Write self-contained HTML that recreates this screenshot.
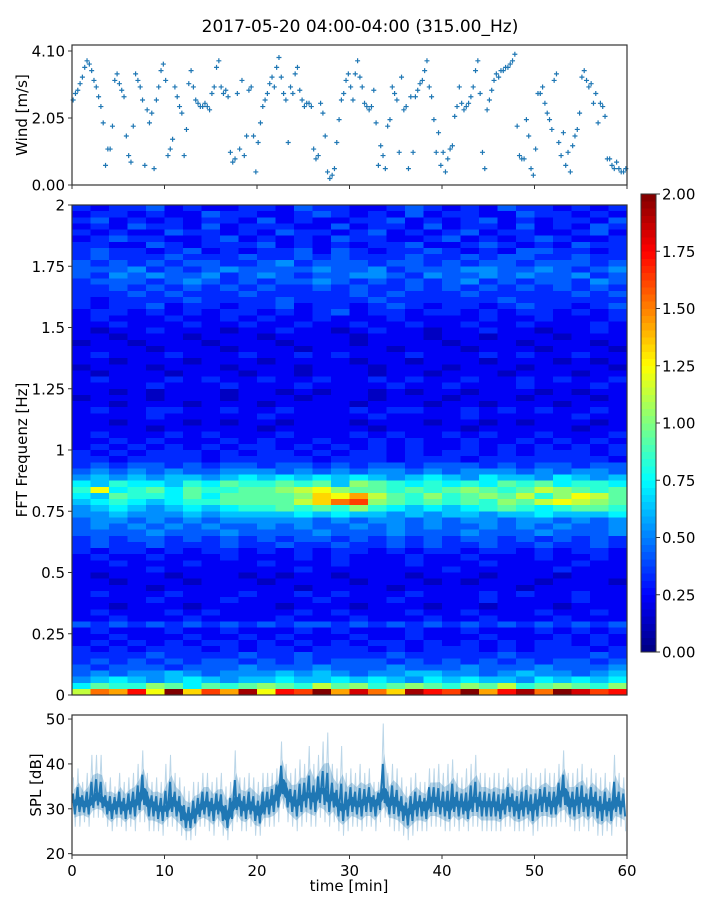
<!DOCTYPE html>
<html><head><meta charset="utf-8">
<style>
html,body{margin:0;padding:0;background:#fff;}
svg{display:block;font-family:"DejaVu Sans","Liberation Sans",sans-serif;}
</style></head>
<body>
<svg id="fig" width="720" height="900" viewBox="0 0 720 900" xmlns="http://www.w3.org/2000/svg">
<text x="360" y="32" font-size="17" text-anchor="middle" fill="#000">2017-05-20 04:00-04:00 (315.00_Hz)</text>
<g id="wind"></g>
<g id="spec"></g>
<g id="cbar"></g>
<g id="spl"></g>
<text transform="translate(27,115) rotate(-90)" font-size="15" text-anchor="middle">Wind [m/s]</text>
<text transform="translate(27,450) rotate(-90)" font-size="15" text-anchor="middle">FFT Frequenz [Hz]</text>
<text transform="translate(41,785) rotate(-90)" font-size="15" text-anchor="middle">SPL [dB]</text>
<text x="349" y="891" font-size="15" text-anchor="middle">time [min]</text>
</svg>
<script>
// ---------- DATA ----------
const windValues = [
2.6,2.8, 2.9,3.1, 3.3,3.6, 3.8,3.7, 3.5,3.2, 3.0,2.7, 2.4,1.9, 0.6,1.1, 1.1,1.8, 3.2,3.4,
3.1,2.9, 2.7,1.5, 0.9,0.7, 1.8,3.4, 3.2,3.0, 2.6,0.6, 2.3,1.9, 2.2,0.5, 2.6,3.0, 3.5,3.7,
3.2,0.9, 1.1,1.4, 3.0,2.7, 2.4,2.2, 0.9,1.7, 3.1,3.5, 3.0,2.6, 2.5,2.4, 2.4,2.5, 2.4,2.3,
2.8,3.0, 3.6,3.8, 3.0,2.8, 2.9,2.7, 1.0,0.7, 0.8,2.8, 1.1,3.2, 0.9,1.5, 2.9,3.0, 1.5,0.4,
1.3,1.9, 2.4,2.6, 2.8,3.1, 3.3,3.0, 3.6,3.9, 3.3,2.8, 2.6,1.3, 3.0,2.8, 3.4,3.6, 2.9,2.6,
2.4,2.5, 2.5,2.4, 1.1,0.8, 0.9,2.5, 2.2,1.5, 0.4,0.2, 0.3,0.5, 1.3,2.0, 2.6,2.8, 3.2,3.4,
3.0,2.6, 3.4,3.8, 3.3,3.0, 2.5,2.4, 2.3,2.4, 2.9,1.9, 0.6,1.2, 0.9,0.5, 1.8,2.0, 3.0,2.8,
2.6,1.0, 3.3,2.3, 2.4,0.5, 2.7,1.0, 2.7,2.9, 3.1,3.2, 3.5,3.8, 3.0,2.7, 2.0,1.0, 1.6,0.6,
1.0,0.4, 0.8,1.1, 1.2,2.1, 2.4,3.0, 2.5,2.3, 2.4,2.5, 2.7,3.0, 3.5,3.8, 2.8,1.0, 0.5,2.3,
2.6,2.9, 3.2,3.4, 3.3,3.5, 3.5,3.6, 3.6,3.7, 3.8,4.0, 1.8,0.9, 0.8,0.8, 2.0,1.5, 0.5,0.3,
1.1,2.8, 2.8,3.0, 2.5,2.2, 2.0,1.7, 3.2,3.4, 1.3,0.9, 1.6,0.6, 1.0,0.4, 1.2,1.5, 1.7,2.2,
3.3,3.5, 3.2,3.0, 3.1,2.5, 2.8,1.9, 2.5,2.4, 2.1,0.8, 0.8,0.6, 0.5,0.7, 0.5,0.4, 0.4,0.5];
const windTicks = [0.00, 2.05, 4.10];
const windTickLabels = ["0.00","2.05","4.10"];

const splMid = [31,32,31,31,32,33, 32,31,30,31,31,30, 31,31,32,34,31,31, 30,30,30,32,31,30, 28,28,29,30,31,31,
30,31,30,28,30,32, 31,30,31,30,29,31, 31,32,33,36,33,32, 31,32,33,33,32,34, 34,32,33,31,30,31,
32,31,31,32,32,31, 32,34,31,32,31,30, 29,30,31,31,30,32, 32,31,31,30,32,31, 31,30,32,32,31,31,
31,31,30,31,32,31, 30,31,31,30,31,32, 32,31,31,33,34,31, 31,32,32,31,32,31, 30,31,30,32,31,31];
const splMax = [37,39,36,38,42,42, 42,36,37,35,38,36, 37,38,40,43,38,36, 37,36,40,42,38,37, 35,34,36,36,38,38,
36,37,38,35,36,43, 37,37,38,37,36,38, 38,38,39,45,40,38, 39,41,40,44,40,42, 45,47,40,39,44,38,
39,38,40,38,39,36, 36,49,38,40,39,37, 35,37,38,36,36,39, 39,40,38,40,41,38, 37,39,40,42,38,38,
37,38,38,37,39,37, 37,38,39,38,37,38, 39,38,38,40,43,38, 38,39,40,37,39,38, 37,38,36,42,38,37];
const splMin = [26,26,27,26,28,28, 28,26,25,26,26,25, 26,25,27,27,25,25, 25,24,26,26,25,24, 23,23,24,26,26,25,
24,26,24,23,25,27, 25,25,26,24,24,26, 26,26,27,30,27,26, 25,26,27,26,26,28, 27,26,27,25,24,25,
26,26,25,26,26,25, 27,28,26,25,25,24, 23,24,25,25,25,26, 26,26,25,25,26,25, 26,25,26,26,25,25,
25,25,25,26,26,25, 25,25,26,24,25,26, 26,26,26,27,27,26, 25,25,26,25,26,24, 24,25,24,26,26,25];
const splTicks = [20,30,40,50];

const timeTicks = [0,10,20,30,40,50,60];
const freqTicks = [0,0.25,0.5,0.75,1,1.25,1.5,1.75,2];
const freqTickLabels = ["0","0.25","0.5","0.75","1","1.25","1.5","1.75","2"];
const cbarTicks = [0,0.25,0.5,0.75,1,1.25,1.5,1.75,2];
const cbarTickLabels = ["0.00","0.25","0.50","0.75","1.00","1.25","1.50","1.75","2.00"];

// spectrogram: rows from 2.0 Hz (top) down to 0 Hz, each code char = value*10 (0-9, A=1.0 ... K=2.0)
const specRows = [
"323342322332433223432324332323","233232243322343232423322433232","342323233242322334232342323324","232433242333224233242332423243",
"323224332324332342323423322342","234332234232324332234232343223","332243233342323233422343232433","343323423233424323343232443323",
"343334333433434333433434433433","434343443345344434434344344434","444534345444454453444554454345","435454453454344554354454544534",
"344434543434454343434534344354","334343434343343433434343434343","333434333433333434333433333434","323333433334333343333334333333",
"323342332334233234323323433234","233232323323234233233232332323","232223223232232223222232232223","223222322322322322322322322232",
"212232221223221232212232212232","221222122212222122212212221222","122122212221222122221222122212","222212221222122221222122212221",
"232223222322323222322232322322","221222122212222122122212221212","122212221222122212221222122221","212221222122122212212221222122",
"232223232232232232322322323223","222232223222322223223222322232","221212221221212212122122212122","122212221222122212221222122212",
"221222122212222122212212221222","232233223223222323322323232232","222232222232222232222322222322","221222121221222122212212122212",
"222212222212222212222122222122","232223232223222323223232232223","223232223232232232322322323232","232323232332323232322323232323",
"323233323233232332323323233323","332333323333323332333233333332","343443434434434344344434344344","454545445554545455454555454554",
"565656656767676765676576657656","768776879889896A98787879897887","8C789798899ABCA998989A989BA989","769887979999ADCEB98A89A9B8ACB9",
"678767889999BDFGA989898A9BCBA9","567656767889898A876767898789987".slice(0,30),"556555656666767665656656676667","455454545555545455454554554545",
"454545454454544545454454545445","444454445444454445444544454445","343443434343443434343443434343","343343334334334334343343343343",
"323323233232323323233233232332","232232223222323222322322232232","223222322232223222322232222322","222232222222322222223222223222",
"212221222121221222122212221222","221222122212222122212122212221","222212222222122221222222122222","232223222322323222322232322322",
"222232223222232223222232222322","221222122221222122212212221222","232223232222323222322322232232","223222322223222322232232223222",
"434343434343443434343434343434","232223223222323222322322232323","223222322323222322322232223232","232323233232323233232323233232",
"323233323233233323233323233323","333343333433433334333334333343","343434344343434443434343434434","434443444544454445444544454445",
"454556545556565455665545655456","567656765667667676576766576767","7988A97989A98B9A89A98A9B89A98A","BFEHCKDGEJCHGKEIFDJHGKEHJFKIGH"
];
const specCodeAlphabet = "0123456789ABCDEFGHIJK";
const specFreqMax = 2.0;
const specTimeMax = 60;

// ---------- HELPERS ----------
const NS = "http://www.w3.org/2000/svg";
function mk(tag, attrs, parent){ const e=document.createElementNS(NS,tag); for(const k in attrs) e.setAttribute(k,attrs[k]); if(parent) parent.appendChild(e); return e; }
function jet(x){ x=Math.max(0,Math.min(1,x)); const c=v=>Math.round(255*Math.max(0,Math.min(1,v)));
  return `rgb(${c(1.5-Math.abs(4*x-3))},${c(1.5-Math.abs(4*x-2))},${c(1.5-Math.abs(4*x-1))})`; }

const X0=72, X1=627;
const xScale = t => X0 + (t/60)*(X1-X0);
const FS = 15;

function frame(g, top, bot, name){
  const r = mk('rect',{x:X0,y:top,width:X1-X0,height:bot-top,fill:'none',stroke:'#333','stroke-width':1.2},g);
  
  
}
function xTicks(g, bot, labels){
  timeTicks.forEach(t=>{
    const x=xScale(t);
    const l=mk('line',{x1:x,x2:x,y1:bot,y2:bot+4,stroke:'#333','stroke-width':1},g);
    
    
    if(labels){
      const tx=mk('text',{x:x,y:bot+21,'font-size':FS,'text-anchor':'middle'},g);
      tx.textContent=t;
      
      
    }
  });
}
function yTick(g, y, label){
  const l=mk('line',{x1:X0-4,x2:X0,y1:y,y2:y,stroke:'#333','stroke-width':1},g);
  
  
  const tx=mk('text',{x:X0-7,y:y+5.5,'font-size':FS,'text-anchor':'end'},g);
  tx.textContent=label;
  
  
}

// ---------- WIND ----------
(function(){
  const g=document.getElementById('wind');
  const top=45, bot=185, vMax=4.1, yMaxPix=51;
  const yScale = v => bot - (v/vMax)*(bot-yMaxPix);
  const n = windValues.length, dt = 60/n;
  windValues.forEach((v,i)=>{
    const x=xScale(i*dt+dt/2), y=yScale(v);
    const p=mk('path',{d:`M${x-2.5},${y}H${x+2.5}M${x},${y-2.5}V${y+2.5}`,stroke:'#1f77b4','stroke-width':1.2,fill:'none'},g);
    
    
  });
  frame(g,top,bot,'wind-axes-frame');
  xTicks(g,bot,false);
  windTicks.forEach((v,i)=>yTick(g,yScale(v),windTickLabels[i]));
})();

// ---------- SPECTROGRAM ----------
(function(){
  const g=document.getElementById('spec');
  const top=205, bot=695;
  const fScale = f => bot - (f/specFreqMax)*(bot-top);
  const nRows=specRows.length;
  const df=specFreqMax/nRows;
  specRows.forEach((row,ri)=>{
    const nCols=30, dtc=specTimeMax/nCols;
    const fHi=specFreqMax-ri*df, fLo=fHi-df;
    for(let j=0;j<nCols;j++){
      const ch=row[j]||'2';
      const val=specCodeAlphabet.indexOf(ch)/10;
      const x=xScale(j*dtc), x2=xScale((j+1)*dtc);
      const r=mk('rect',{x:x,y:fScale(fHi),width:x2-x+0.3,height:fScale(fLo)-fScale(fHi)+0.3,fill:jet((val+0.03)/2),'shape-rendering':'crispEdges'},g);
      
      
    }
  });
  frame(g,top,bot,'spectrogram-axes-frame');
  freqTicks.forEach((f,i)=>yTick(g,fScale(f),freqTickLabels[i]));
})();

// ---------- COLORBAR ----------
(function(){
  const g=document.getElementById('cbar');
  const cx=641, cw=15, top=194, bot=652;
  const vScale = v => bot - (v/2)*(bot-top);
  const steps=64;
  for(let i=0;i<steps;i++){
    const y1=vScale((i+1)*2/steps), y2=vScale(i*2/steps);
    const r=mk('rect',{x:cx,y:y1,width:cw,height:y2-y1+0.4,fill:jet((i+0.5)/steps),'shape-rendering':'crispEdges'},g);
    
    
  }
  const f=mk('rect',{x:cx,y:top,width:cw,height:bot-top,fill:'none',stroke:'#333','stroke-width':1},g);
  
  
  cbarTicks.forEach((v,i)=>{
    const y=vScale(v);
    const l=mk('line',{x1:cx+cw,x2:cx+cw+4,y1:y,y2:y,stroke:'#333'},g);
    
    
    const t=mk('text',{x:cx+cw+6,y:y+5.5,'font-size':FS},g);
    t.textContent=cbarTickLabels[i];
    
    
  });
})();

// ---------- SPL ----------
(function(){
  const g=document.getElementById('spl');
  const top=715, bot=855, yLo=19.7, yHi=50.9;
  const yScale = v => bot - (v-yLo)/(yHi-yLo)*(bot-top);
  const n=splMid.length, dt=60/n;
  let d='';
  splMax.forEach((v,i)=>{ d+=(i?'L':'M')+xScale(i*dt+dt*0.3)+','+yScale(v)+'L'+xScale(i*dt+dt*0.7)+','+yScale(splMin[i]); });
  const env=mk('path',{d:d,fill:'none',stroke:'#1f77b4','stroke-width':1,'stroke-opacity':0.3},g);
  
  
  let up='', dn='';
  for(let i=0;i<n;i++){ up+=(i?'L':'M')+xScale(i*dt+dt/2)+','+yScale(splMax[i]*0.55+splMid[i]*0.45); }
  for(let i=n-1;i>=0;i--){ dn+='L'+xScale(i*dt+dt/2)+','+yScale(splMin[i]*0.6+splMid[i]*0.4); }
  const band=mk('path',{d:up+dn+'Z',fill:'#1f77b4','fill-opacity':0.3},g);
  
  
  let c='';
  for(let i=0;i<n;i++){
    const a=splMid[i]+(splMax[i]-splMid[i])*0.4, b=splMid[i]-(splMid[i]-splMin[i])*0.45;
    c+=(i?'L':'M')+xScale(i*dt+dt*0.2)+','+yScale(a)+'L'+xScale(i*dt+dt*0.6)+','+yScale(b);
  }
  const core=mk('path',{d:c,fill:'none',stroke:'#1f77b4','stroke-width':2},g);
  
  
  let m='';
  for(let i=0;i<n;i++){ m+=(i?'L':'M')+xScale(i*dt+dt/2)+','+yScale(splMid[i]); }
  const mid=mk('path',{d:m,fill:'none',stroke:'#1f77b4','stroke-width':6,'stroke-linejoin':'round'},g);
  
  
  frame(g,top,bot,'spl-axes-frame');
  xTicks(g,bot,true);
  splTicks.forEach(v=>yTick(g,yScale(v),String(v)));
})();
</script>
</body></html>
